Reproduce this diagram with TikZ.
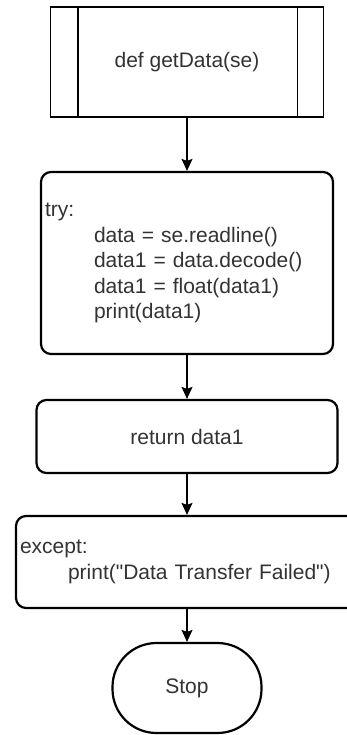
\documentclass[tikz,border=0pt]{standalone}
\usepackage{fontspec}
\setmainfont{Liberation Sans}
\usetikzlibrary{arrows.meta}

\tikzset{
  flowtext/.style={text=black!80, font=\fontsize{21}{25.5}\selectfont},
  procbox/.style={draw, line width=1.4pt, minimum width=273pt, minimum height=110pt, flowtext},
  codebox/.style={draw, line width=2.2pt, rounded corners=10pt, inner xsep=4pt, align=left, flowtext},
  termbox/.style={draw, line width=2.2pt, rounded corners=44pt, minimum width=149pt, minimum height=90pt, flowtext},
  flow/.style={line width=1.5pt, -{Stealth[length=12pt,width=11pt,inset=2pt]}},
}

\begin{document}
\begin{tikzpicture}[x=1pt,y=-1pt]
\clip (0,0) rectangle (347,735);
\fill[white] (0,0) rectangle (347,735);

\node[procbox] (getData) at (187,62) {def getData(se)};
\draw[line width=1.4pt] ([xshift=28pt]getData.north west) -- ([xshift=28pt]getData.south west);
\draw[line width=1.4pt] ([xshift=-27pt]getData.north east) -- ([xshift=-27pt]getData.south east);

\node[codebox, text width=284pt, minimum height=182pt] (tryBlock) at (187,263) {try:\\
  \hspace*{49pt}data = se.readline()\\
  \hspace*{49pt}data1 = data.decode()\\
  \hspace*{49pt}data1 = float(data1)\\
  \hspace*{49pt}print(data1)};

\node[codebox, align=center, minimum width=301pt, minimum height=73pt] (returnData) at (187,436.5) {return data1};

\node[codebox, text width=334pt, minimum height=92pt] (exceptBlock) at (187,562) {except:\\
  \hspace*{48pt}print(\textquotedbl Data Transfer Failed\textquotedbl)};

\node[termbox] (stop) at (187,688) {Stop};

\draw[flow] (getData) -- (tryBlock);
\draw[flow] (tryBlock) -- (returnData);
\draw[flow] (returnData) -- (exceptBlock);
\draw[flow] (exceptBlock) -- (stop);
\end{tikzpicture}
\end{document}
